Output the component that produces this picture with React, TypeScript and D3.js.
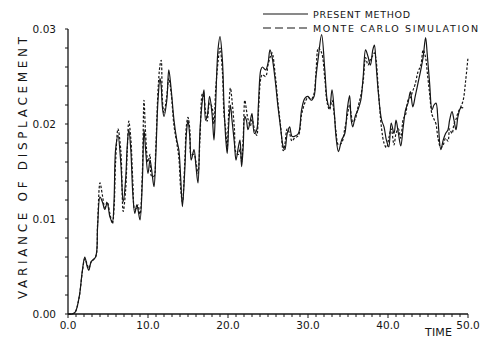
import React, { useEffect, useRef } from 'react';
import * as d3 from 'd3';

const TIME = [
  0, 0.5, 0.9, 1.4, 1.8, 2.1, 2.4, 2.6, 2.9, 3.45, 3.7, 4.0, 4.3, 4.6, 4.9, 5.25, 5.55, 5.75, 5.95, 6.25,
  6.6, 6.9, 7.2, 7.4, 7.6, 7.85, 8.1, 8.35, 8.6, 8.75, 9.0, 9.3, 9.5, 9.7, 10.0, 10.25, 10.45, 10.75, 10.95, 11.25,
  11.5, 11.65, 11.8, 12.0, 12.35, 12.6, 12.9, 13.25, 13.6, 13.85, 14.1, 14.3, 14.6, 14.8, 15.0, 15.25, 15.4, 15.75, 16.0, 16.25,
  16.5, 16.8, 17.0, 17.2, 17.4, 17.7, 18.0, 18.25, 18.45, 18.75, 19.0, 19.3, 19.5, 19.7, 19.9, 20.1, 20.3, 20.5, 20.8, 21.0,
  21.3, 21.5, 21.7, 21.9, 22.1, 22.3, 22.5, 22.8, 23.0, 23.3, 23.6, 23.8, 24.1, 24.3, 24.7, 25.0, 25.25, 25.5, 25.9, 26.25,
  26.6, 26.9, 27.1, 27.4, 27.7, 28.0, 28.3, 28.8, 29.2, 29.6, 30.0, 30.4, 30.75, 31.0, 31.3, 31.7, 32.1, 32.4, 32.7, 33.0,
  33.3, 33.5, 33.8, 34.2, 34.6, 34.9, 35.2, 35.4, 35.6, 35.9, 36.25, 36.6, 36.9, 37.2, 37.5, 37.8, 38.1, 38.3, 38.5, 38.8,
  39.2, 39.5, 39.8, 40.1, 40.4, 40.75, 41.0, 41.3, 41.6, 41.9, 42.2, 42.5, 42.8, 43.1, 43.4, 43.75, 44.1, 44.4, 44.7, 44.9,
  45.2, 45.5, 45.75, 46.0, 46.25, 46.6, 46.9, 47.2, 47.5, 47.7, 48.0, 48.25, 48.5, 48.75, 49.1, 49.4, 49.7, 50.0,
];

const PRESENT = [
  0, 0, 0.0002, 0.0018, 0.0046, 0.006, 0.005, 0.0046, 0.0055, 0.006, 0.0092, 0.0123, 0.0118, 0.011, 0.0117, 0.0102, 0.0097, 0.0118, 0.0173, 0.0188,
  0.0159, 0.0118, 0.0141, 0.0176, 0.0194, 0.0173, 0.0127, 0.0106, 0.0115, 0.011, 0.0099, 0.0141, 0.0194, 0.0173, 0.0148, 0.0162, 0.0152, 0.0134, 0.0162, 0.0225,
  0.0248, 0.024, 0.0218, 0.0208, 0.0225, 0.0257, 0.0236, 0.0204, 0.0183, 0.0173, 0.0141, 0.0113, 0.0152, 0.019, 0.0204, 0.0183, 0.0162, 0.0173, 0.0155, 0.0138,
  0.0194, 0.0225, 0.0236, 0.0204, 0.0208, 0.0229, 0.0211, 0.0183, 0.022, 0.0278, 0.0292, 0.0267, 0.022, 0.0187, 0.0169, 0.0201, 0.022, 0.0204, 0.018, 0.0162,
  0.0176, 0.0183, 0.0155, 0.0176, 0.0208, 0.0204, 0.0194, 0.0204, 0.0211, 0.019, 0.0194, 0.022, 0.0257, 0.026, 0.0257, 0.0264, 0.0278, 0.0271, 0.0246, 0.0218,
  0.0194, 0.0176, 0.0173, 0.019, 0.0197, 0.0187, 0.0187, 0.019, 0.0215, 0.0227, 0.0229, 0.0225, 0.0229, 0.025, 0.0271, 0.0294, 0.0257, 0.0225, 0.0217, 0.0236,
  0.0211, 0.0187, 0.0171, 0.0183, 0.019, 0.0215, 0.023, 0.0204, 0.0197, 0.0208, 0.0215, 0.0225, 0.025, 0.0278, 0.0271, 0.0262, 0.0278, 0.0283, 0.0264, 0.0232,
  0.0204, 0.0197, 0.0183, 0.0176, 0.0201, 0.019, 0.0204, 0.019, 0.0177, 0.0197, 0.0215, 0.0222, 0.0234, 0.0218, 0.0229, 0.0243, 0.0257, 0.0271, 0.0291, 0.0274,
  0.0243, 0.0215, 0.022, 0.0222, 0.0204, 0.0173, 0.0183, 0.019, 0.0194, 0.0204, 0.0213, 0.0204, 0.0194, 0.0208, 0.0217, 0.0217, null, null,
];

const MONTE_CARLO = [
  0, 0, 0.0002, 0.0018, 0.0045, 0.0058, 0.0052, 0.0048, 0.0055, 0.006, 0.0095, 0.0138, 0.0125, 0.0112, 0.0118, 0.0105, 0.0095, 0.011, 0.016, 0.0195,
  0.0172, 0.0108, 0.013, 0.017, 0.0203, 0.0185, 0.014, 0.011, 0.0112, 0.0115, 0.0105, 0.015, 0.0225, 0.019, 0.016, 0.0168, 0.0145, 0.0145, 0.017, 0.0235,
  0.0262, 0.0267, 0.0225, 0.0212, 0.023, 0.0248, 0.0232, 0.0198, 0.018, 0.0165, 0.013, 0.0118, 0.016, 0.0198, 0.0207, 0.0192, 0.0168, 0.0168, 0.016, 0.0148,
  0.0185, 0.0232, 0.0228, 0.0212, 0.0203, 0.0222, 0.0218, 0.02, 0.0235, 0.0265, 0.028, 0.0255, 0.021, 0.0195, 0.0175, 0.0215, 0.0238, 0.0225, 0.0195, 0.017,
  0.0168, 0.0175, 0.016, 0.0185, 0.0225, 0.0215, 0.0205, 0.0198, 0.0205, 0.0195, 0.0188, 0.0212, 0.0248, 0.0252, 0.025, 0.0262, 0.027, 0.0275, 0.0252, 0.0222,
  0.0196, 0.0172, 0.0178, 0.0195, 0.019, 0.0182, 0.0185, 0.0188, 0.021, 0.0222, 0.0228, 0.0226, 0.0232, 0.0255, 0.028, 0.0275, 0.0248, 0.0222, 0.0215, 0.0225,
  0.0208, 0.0192, 0.0178, 0.018, 0.0195, 0.0208, 0.022, 0.021, 0.0202, 0.0205, 0.0218, 0.023, 0.0245, 0.027, 0.0262, 0.0268, 0.0272, 0.0275, 0.0268, 0.0235,
  0.0195, 0.018, 0.0175, 0.0185, 0.0195, 0.0178, 0.019, 0.0195, 0.0185, 0.0205, 0.021, 0.0225, 0.0228, 0.0235, 0.0242, 0.0255, 0.0262, 0.0278, 0.027, 0.0255,
  0.0232, 0.021, 0.0205, 0.02, 0.0185, 0.0175, 0.0178, 0.0185, 0.0182, 0.0195, 0.019, 0.02, 0.0205, 0.0212, 0.0218, 0.0225, 0.0245, 0.027,
];

const X_TICKS = [0, 10, 20, 30, 40, 50];
const X_TICK_LABELS = ['0.0', '10.0', '20.0', '30.0', '40.0', '50.0'];
const Y_TICKS = [0, 0.01, 0.02, 0.03];
const Y_TICK_LABELS = ['0.00', '0.01', '0.02', '0.03'];
const SERIES_NAMES = ['PRESENT METHOD', 'MONTE CARLO SIMULATION'];

const FONT = '"DejaVu Sans", Arial, sans-serif';
const INK = '#151515';

export default function App() {
  const svgRef = useRef<SVGSVGElement>(null);

  useEffect(() => {
    const svg = d3.select(svgRef.current);
    svg.selectAll('*').remove();

    const x = d3.scaleLinear().domain([0, 50]).range([68, 468]);
    const y = d3.scaleLinear().domain([0, 0.03]).range([314, 29]);

    // axes lines
    svg.append('line').attr('x1', x(0)).attr('x2', x(50)).attr('y1', y(0)).attr('y2', y(0))
      .attr('stroke', INK).attr('stroke-width', 1.3);
    svg.append('line').attr('x1', x(0)).attr('x2', x(0)).attr('y1', y(0)).attr('y2', y(0.03))
      .attr('stroke', INK).attr('stroke-width', 1.3);

    // minor ticks
    d3.range(0, 51, 1).forEach((t) => {
      svg.append('line').attr('x1', x(t)).attr('x2', x(t)).attr('y1', y(0)).attr('y2', y(0) + (t % 10 === 0 ? 4 : 3))
        .attr('stroke', INK).attr('stroke-width', 1);
    });
    d3.range(0, 16, 1).forEach((i) => {
      const v = i * 0.002;
      svg.append('line').attr('x1', x(0) - 3).attr('x2', x(0)).attr('y1', y(v)).attr('y2', y(v))
        .attr('stroke', INK).attr('stroke-width', 1);
    });

    // tick labels
    X_TICKS.forEach((t, i) => {
      svg.append('text').attr('x', x(t)).attr('y', 329).attr('text-anchor', 'middle')
        .attr('font-family', FONT).attr('font-size', 10.5).attr('fill', INK).text(X_TICK_LABELS[i]);
    });
    Y_TICKS.forEach((v, i) => {
      svg.append('text').attr('x', 56).attr('y', y(v) + 4).attr('text-anchor', 'end')
        .attr('font-family', FONT).attr('font-size', 10.5).attr('fill', INK).text(Y_TICK_LABELS[i]);
    });

    // axis titles
    svg.append('text').attr('transform', 'translate(27,168) rotate(-90)').attr('text-anchor', 'middle')
      .attr('font-family', FONT).attr('font-size', 12).attr('fill', INK)
      .attr('textLength', 262).attr('lengthAdjust', 'spacing').text('VARIANCE OF DISPLACEMENT');
    svg.append('text').attr('x', 425).attr('y', 336)
      .attr('font-family', FONT).attr('font-size', 11).attr('fill', INK)
      .attr('textLength', 27).attr('lengthAdjust', 'spacing').text('TIME');

    // curves
    const points = (vals: (number | null)[]) => TIME.map((t, i) => [t, vals[i]] as [number, number | null]);
    const line = d3.line<[number, number | null]>()
      .defined((d) => d[1] != null)
      .x((d) => x(d[0]))
      .y((d) => y(d[1] as number))
      .curve(d3.curveCatmullRom.alpha(0.5));

    svg.append('path').attr('d', line(points(MONTE_CARLO)))
      .attr('fill', 'none').attr('stroke', INK).attr('stroke-width', 1.2).attr('stroke-dasharray', '2.5,1.8');
    svg.append('path').attr('d', line(points(PRESENT)))
      .attr('fill', 'none').attr('stroke', INK).attr('stroke-width', 1.2);

    // legend
    const legend = svg.append('g');
    legend.append('line').attr('x1', 263).attr('x2', 308).attr('y1', 14).attr('y2', 14)
      .attr('stroke', INK).attr('stroke-width', 1.2);
    legend.append('line').attr('x1', 263).attr('x2', 308).attr('y1', 28).attr('y2', 28)
      .attr('stroke', INK).attr('stroke-width', 1.2).attr('stroke-dasharray', '8,4');
    legend.append('text').attr('x', 313).attr('y', 18).attr('font-family', FONT).attr('font-size', 9.5)
      .attr('fill', INK).attr('textLength', 97).attr('lengthAdjust', 'spacing').text(SERIES_NAMES[0]);
    legend.append('text').attr('x', 313).attr('y', 32).attr('font-family', FONT).attr('font-size', 9.5)
      .attr('fill', INK).attr('textLength', 165).attr('lengthAdjust', 'spacing').text(SERIES_NAMES[1]);
  }, []);

  return (
    <svg
      ref={svgRef}
      width={488}
      height={345}
      style={{ position: 'absolute', left: 0, top: 0, background: '#fff' }}
    />
  );
}
